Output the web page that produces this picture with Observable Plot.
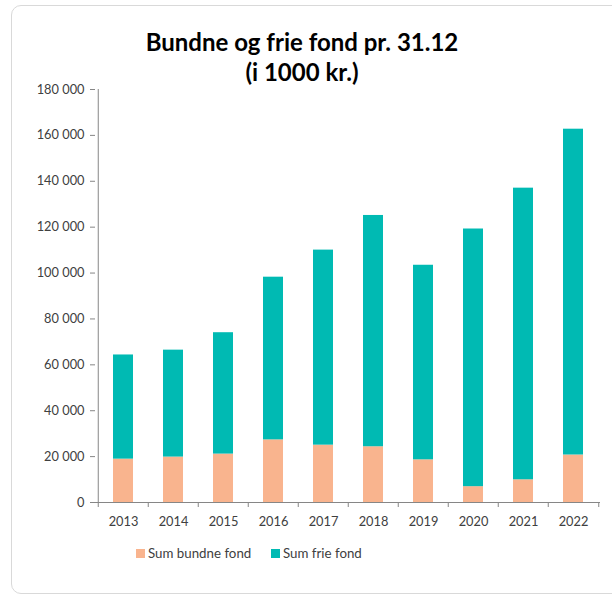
<!DOCTYPE html>
<html>
<head>
<meta charset="utf-8">
<script src="https://cdn.jsdelivr.net/npm/d3@7"></script>
<script src="https://cdn.jsdelivr.net/npm/@observablehq/plot@0.6"></script>
<style>
  html, body { margin: 0; padding: 0; background: #fff; }
  body { width: 612px; height: 596px; position: relative; overflow: hidden; font-family: Lato, "Open Sans", sans-serif; }
  #frame { position: absolute; left: 11px; top: 5px; width: 612px; height: 589px; border: 1px solid #d9d9d9; border-radius: 10px; box-sizing: border-box; }
  #title { position: absolute; left: 0; width: 604px; top: 27px; text-align: center; font-weight: bold; font-size: 24px; line-height: 30px; color: #000; }
  #chart { position: absolute; left: 0; top: 80px; }
  #legend { position: absolute; top: 545px; left: 0; font-size: 13.3px; color: #404040; }
  #legend span.item { position: absolute; white-space: nowrap; }
  #legend span.sw { display: inline-block; width: 9px; height: 9px; margin-right: 3px; vertical-align: 0px; }
</style>
</head>
<body>
<div id="frame"></div>
<div id="title">Bundne og frie fond pr. 31.12<br>(i 1000 kr.)</div>
<div id="chart"></div>
<div id="legend"></div>
<script>
const years = ["2013","2014","2015","2016","2017","2018","2019","2020","2021","2022"];
const seriesNames = ["Sum bundne fond", "Sum frie fond"];
const seriesColors = ["#F9B48E", "#00BAB3"];
const bundne = [18900, 19800, 21100, 27300, 25000, 24300, 18600, 6900, 9900, 20700];
const totals = [64300, 66400, 74000, 98200, 110000, 125100, 103400, 119200, 137000, 162700];
const frie = totals.map((t, i) => t - bundne[i]);
const yTicks = [0, 20000, 40000, 60000, 80000, 100000, 120000, 140000, 160000, 180000];

const rows = [];
years.forEach((y, i) => {
  rows.push({year: y, series: seriesNames[0], value: bundne[i]});
  rows.push({year: y, series: seriesNames[1], value: frie[i]});
});

const fmt = d3.formatLocale({decimal: ",", thousands: "\u00a0", grouping: [3], currency: ["", ""]}).format(",d");

const width = 612, marginLeft = 95, marginRight = 12;
const half = (width - marginLeft - marginRight) / years.length / 2;

const chart = Plot.plot({
  width,
  height: 452,
  marginLeft,
  marginRight,
  marginTop: 9,
  marginBottom: 30,
  style: {fontFamily: "Lato, 'Open Sans', sans-serif", fontSize: "12px", color: "#404040", background: "transparent"},
  x: {domain: years, paddingInner: 0.6, paddingOuter: 0.3, label: null},
  y: {domain: [0, 180000], label: null},
  color: {domain: seriesNames, range: seriesColors},
  marks: [
    Plot.barY(rows, {x: "year", y: "value", fill: "series", order: seriesNames}),
    Plot.axisY({ticks: yTicks, tickFormat: fmt, tickSize: 5, tickPadding: 6, stroke: "#868686", fill: "#404040", fontSize: 12.8, label: null}),
    Plot.ruleX([0], {x: () => years[0], dx: -half, stroke: "#868686", y1: 0, y2: 180000}),
    Plot.ruleY([0], {stroke: "#868686"}),
    Plot.axisX({tickSize: 0, tickPadding: 14, fill: "#404040", fontSize: 12.8, label: null}),
    Plot.axisX({tickSize: 5, dx: -half, text: null, stroke: "#868686", label: null}),
    Plot.axisX([years[years.length - 1]], {tickSize: 5, dx: half, text: null, stroke: "#868686", label: null})
  ]
});
document.getElementById("chart").appendChild(chart);

const legend = document.getElementById("legend");
const positions = [136, 271];
seriesNames.forEach((n, i) => {
  const s = document.createElement("span");
  s.className = "item";
  s.style.left = positions[i] + "px";
  s.innerHTML = `<span class="sw" style="background:${seriesColors[i]}"></span>${n}`;
  legend.appendChild(s);
});
</script>
</body>
</html>
